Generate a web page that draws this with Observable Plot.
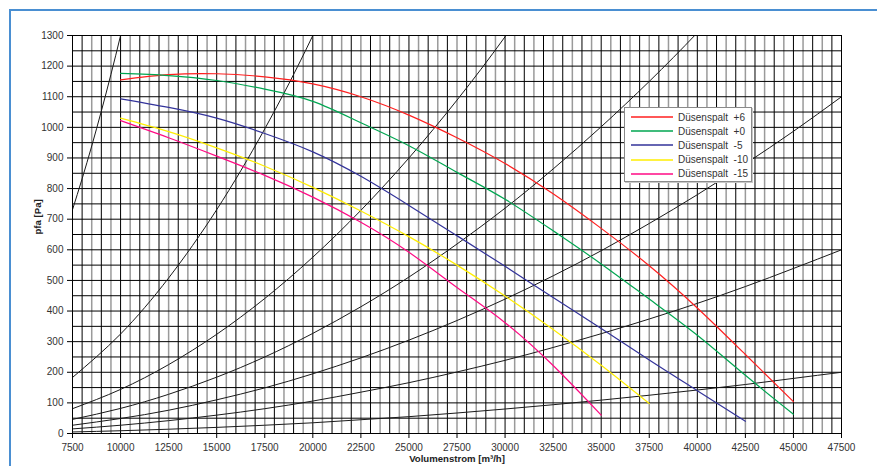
<!DOCTYPE html>
<html><head><meta charset="utf-8">
<script src="https://cdn.jsdelivr.net/npm/d3@7"></script>
<script src="https://cdn.jsdelivr.net/npm/@observablehq/plot@0.6"></script>
<style>
body{margin:0;background:#fff;overflow:hidden;font-family:"Liberation Sans",Arial,sans-serif;}
#wrap{position:relative;width:877px;height:466px;overflow:hidden;}
#border{position:absolute;left:9px;top:9px;width:1000px;height:1000px;border-left:2px solid #4a8fd2;border-top:2px solid #4a8fd2;}
#chart{position:absolute;left:0;top:0;}
#legend{position:absolute;left:624px;top:107px;width:126px;height:73px;background:#fff;border:1px solid #8a8a8a;box-shadow:1px 1px 0 #c8c8c8;}
.row{position:absolute;left:0;height:14px;display:flex;align-items:center;font-size:10px;color:#333;white-space:pre;}
.row svg{margin-left:6px;margin-right:5px;}
</style></head>
<body><div id="wrap"><div id="border"></div><div id="chart"></div><div id="legend"></div></div>
<script>
// ---- axis ticks ----
const xTicks = [7500,10000,12500,15000,17500,20000,22500,25000,27500,30000,32500,35000,37500,40000,42500,45000,47500];
const yTicks = [0,100,200,300,400,500,600,700,800,900,1000,1100,1200,1300];
const gridXMajor = [8000,9000,10000,11000,12000,13000,14000,15000,16000,17000,18000,19000,20000,21000,22000,23000,24000,25000,26000,27000,28000,29000,30000,31000,32000,33000,34000,35000,36000,37000,38000,39000,40000,41000,42000,43000,44000,45000,46000,47000];
const gridXMinor = [8500,9500,10500,11500,12500,13500,14500,15500,16500,17500,18500,19500,20500,21500,22500,23500,24500,25500,26500,27500,28500,29500,30500,31500,32500,33500,34500,35500,36500,37500,38500,39500,40500,41500,42500,43500,44500,45500,46500];
const gridY = [50,100,150,200,250,300,350,400,450,500,550,600,650,700,750,800,850,900,950,1000,1050,1100,1150,1200,1250];

// ---- system (black) curves ----
const qA = [7500,8000,8500,9000,9500,10000,10500];
const sysA = [731,832,939,1053,1173,1300,1433];
const qSys = [7500,10000,12500,15000,17500,20000,22500,25000,27500,30000,32500,35000,37500,40000,42500,45000,47500];
const sysB = [183,325,508,731,995,1300,1645];
const sysC = [81,144,225,324,441,576,729,900,1089,1296,1521];
const sysD = [46,82,128,184,250,327,414,511,619,736,864,1002,1150,1309,1478];
const sysE = [27,49,76,110,149,195,247,305,369,439,515,597,686,780,881,987,1100];
const sysF = [15,27,42,60,81,106,135,166,201,239,281,326,374,425,480,539,600];
const sysG = [5,9,14,20,27,35,45,55,67,80,94,109,125,142,160,180,200];

// ---- fan curves (Düsenspalt) ----
const qFan = [10000,12500,15000,17500,20000,22500,25000,27500,30000,32500,35000,37500,40000,42500,45000];
const fanP6  = [1155,1172,1175,1165,1142,1100,1040,966,882,783,670,548,410,258,104];
const fanP0  = [1176,1169,1153,1125,1085,1015,940,853,765,662,554,439,321,190,63];
const fanM5  = [1093,1065,1030,980,920,840,745,646,546,444,343,240,140,40];
const fanM10 = [1030,986,933,873,804,727,643,550,449,340,223,98];
const fanM15 = [1022,966,906,843,772,690,592,477,362,222,60];

const seriesNames = ["Düsenspalt  +6","Düsenspalt  +0","Düsenspalt  -5","Düsenspalt  -10","Düsenspalt  -15"];
const seriesColors = ["#ff1f1f","#00a651","#33339a","#ffee00","#ff0a84"];
const fanValues = [fanP6, fanP0, fanM5, fanM10, fanM15];

const sysRows = [];
[[qA,sysA,"A"],[qSys,sysB,"B"],[qSys,sysC,"C"],[qSys,sysD,"D"],[qSys,sysE,"E"],[qSys,sysF,"F"],[qSys,sysG,"G"]]
  .forEach(([qs,ps,id]) => ps.forEach((p,i) => sysRows.push({q:qs[i], p, id})));
const fanRows = [];
fanValues.forEach((vals,k) => vals.forEach((p,i) => fanRows.push({q:qFan[i], p, s:seriesNames[k]})));

const chart = Plot.plot({
  width: 877, height: 466,
  marginLeft: 72, marginRight: 36, marginTop: 35, marginBottom: 33,
  style: {fontFamily: "'Liberation Sans', Arial, sans-serif", fontSize: "10px", color: "#333", background: "transparent"},
  x: {domain: [7500, 47500]},
  y: {domain: [0, 1300]},
  color: {domain: seriesNames, range: seriesColors},
  marks: [
    Plot.ruleX(gridXMinor, {stroke: "#9a9a9a", strokeWidth: 1.5}),
    Plot.ruleX(gridXMajor, {stroke: "#000", strokeWidth: 1}),
    Plot.ruleY(gridY, {stroke: "#000", strokeWidth: 1}),
    Plot.line(sysRows, {x: "q", y: "p", z: "id", stroke: "#1a1a1a", strokeWidth: 1, curve: "natural", clip: true}),
    Plot.line(fanRows, {x: "q", y: "p", z: "s", stroke: "s", strokeWidth: 1.2, curve: "natural", clip: true}),
    Plot.frame({stroke: "#000"}),
    Plot.axisX({ticks: xTicks, tickSize: 5, tickPadding: 5, tickFormat: d => String(d), label: null, stroke: "#000"}),
    Plot.axisY({ticks: yTicks, tickSize: 5, tickPadding: 4, tickFormat: d => String(d), label: null, stroke: "#000"}),
    Plot.text(["Volumenstrom [m³/h]"], {frameAnchor: "bottom", dy: 28, fontWeight: "bold", fontSize: 9.6, fill: "#222"}),
    Plot.text(["pfa [Pa]"], {frameAnchor: "left", dx: -35, rotate: -90, fontWeight: "bold", fontSize: 9.6, fill: "#222"})
  ]
});
document.getElementById("chart").appendChild(chart);

const leg = document.getElementById("legend");
seriesNames.forEach((name, i) => {
  const r = document.createElement("div");
  r.className = "row";
  r.style.top = (2 + i * 14.2) + "px";
  r.innerHTML = `<svg width="42" height="4"><line x1="0" x2="42" y1="2" y2="2" stroke="${seriesColors[i]}" stroke-width="1.5"/></svg><span>${name}</span>`;
  leg.appendChild(r);
});
</script>
</body></html>
